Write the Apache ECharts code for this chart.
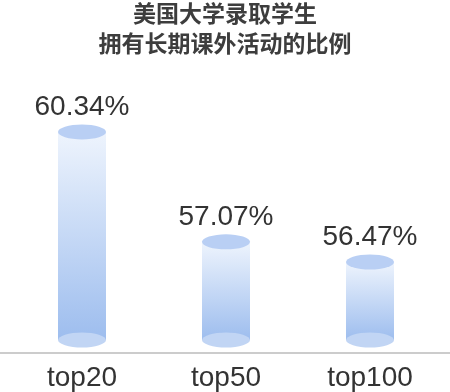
<!DOCTYPE html>
<html>
<head>
<meta charset="utf-8">
<script src="https://cdn.jsdelivr.net/npm/echarts@6/dist/echarts.min.js"></script>
<style>html,body{margin:0;padding:0;background:#fff}#c{width:450px;height:392px}</style>
</head>
<body>
<div id="c"></div>
<script>
const categories = ['top20', 'top50', 'top100'];
const values = [60.34, 57.07, 56.47];
const titleLines = ['美国大学录取学生', '拥有长期课外活动的比例'];

const yMin = 54.15;
const yMax = 62.48;
const chart = echarts.init(document.getElementById('c'));
const barW = 48;
const ellH = 15;
chart.setOption({
  animation: false,
  backgroundColor: '#fff',
  title: {
    text: titleLines.join('\n'),
    left: 'center',
    top: -7,
    textStyle: {
      fontFamily: 'Noto Sans CJK SC',
      fontWeight: 'bold',
      fontSize: 23,
      lineHeight: 30,
      color: '#3d3d3d'
    }
  },
  grid: { left: 10, right: 8, top: 60, bottom: 52 },
  xAxis: {
    type: 'category',
    data: categories,
    axisLine: { show: false },
    axisTick: { show: false },
    axisLabel: {
      margin: 24,
      fontFamily: 'Liberation Sans',
      fontSize: 28,
      color: '#333'
    }
  },
  yAxis: {
    type: 'value',
    min: yMin,
    max: yMax,
    show: false,
    splitLine: { show: false }
  },
  graphic: [{
    type: 'line',
    shape: { x1: 0, y1: 353, x2: 450, y2: 353 },
    style: { stroke: '#cccccc', lineWidth: 2 },
    silent: true
  }],
  series: [
    {
      type: 'bar',
      data: values,
      barWidth: barW,
      z: 1,
      itemStyle: {
        color: new echarts.graphic.LinearGradient(0, 0, 0, 1, [
          { offset: 0, color: '#eef4fd' },
          { offset: 1, color: '#9dbdee' }
        ])
      },
      label: {
        show: true,
        position: 'top',
        distance: 11,
        formatter: p => p.value.toFixed(2) + '%',
        fontFamily: 'Liberation Sans',
        fontSize: 28,
        color: '#333'
      }
    },
    {
      type: 'pictorialBar',
      data: values,
      symbol: 'circle',
      symbolSize: [barW, ellH],
      symbolPosition: 'end',
      symbolOffset: [0, -ellH / 2],
      z: 3,
      itemStyle: { color: '#b9cff4' }
    },
    {
      type: 'scatter',
      data: categories.map(() => yMin),
      symbol: 'circle',
      symbolSize: [barW, ellH],
      z: 3,
      clip: false,
      itemStyle: { color: '#c1d5f4', opacity: 1 }
    }
  ]
});
</script>
</body>
</html>
